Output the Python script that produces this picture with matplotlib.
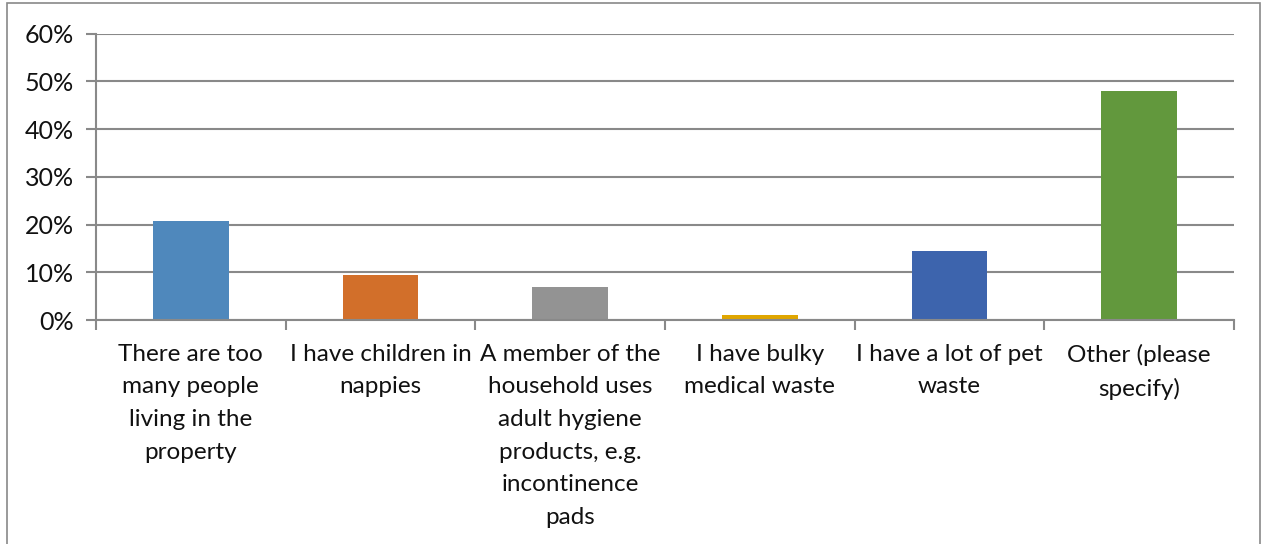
import matplotlib
matplotlib.use("Agg")
import matplotlib.pyplot as plt
from matplotlib.patches import Rectangle
from matplotlib.ticker import FuncFormatter

categories = [
    "There are too\nmany people\nliving in the\nproperty",
    "I have children in\nnappies",
    "A member of the\nhousehold uses\nadult hygiene\nproducts, e.g.\nincontinence\npads",
    "I have bulky\nmedical waste",
    "I have a lot of pet\nwaste",
    "Other (please\nspecify)",
]
values = [20.7, 9.4, 6.9, 1.0, 14.4, 47.9]
colors = ["#4F88BC", "#D26F2A", "#939393", "#E0A600", "#3D64AD", "#62983D"]
yticks = [0, 10, 20, 30, 40, 50, 60]

plt.rcParams['font.family'] = ['Lato', 'DejaVu Sans']
W, H = 1265, 544
fig = plt.figure(figsize=(W / 100, H / 100), dpi=100)
fig.patches.append(Rectangle((7 / W, -0.01), (1260 - 7) / W, 1 - 3 / H + 0.01,
                             transform=fig.transFigure, fill=False,
                             edgecolor="#898989", linewidth=1.2))
ax = fig.add_axes([96 / W, 1 - 320 / H, (1234 - 96) / W, (320 - 33.5) / H])

x = list(range(len(categories)))
ax.bar(x, values, width=0.4, color=colors, zorder=3)
ax.set_xlim(-0.5, len(categories) - 0.5)
ax.set_ylim(0, 60)
ax.set_yticks(yticks)
ax.yaxis.set_major_formatter(FuncFormatter(lambda v, p: f"{int(v)}%"))
ax.grid(axis="y", color="#898989", linewidth=1.5, zorder=0)
for s in ["top", "right"]:
    ax.spines[s].set_visible(False)
for s in ["left", "bottom"]:
    ax.spines[s].set_color("#898989")
    ax.spines[s].set_linewidth(1.5)
    ax.spines[s].set_zorder(4)

ax.set_xticks([i - 0.5 for i in range(len(categories) + 1)], minor=False)
ax.set_xticklabels([])
ax.tick_params(axis="x", which="major", length=7, width=1.5, color="#898989", direction="out")
ax.tick_params(axis="y", length=7, width=1.5, color="#898989", labelsize=18, pad=9)
for lab in ax.get_yticklabels():
    lab.set_color("#111111")

for i, c in enumerate(categories):
    ax.text(i, -5.0, c, ha="center", va="top", fontsize=17.5, color="#111111",
            linespacing=1.68, transform=ax.transData, clip_on=False)

fig.savefig("out.png", dpi=100)
